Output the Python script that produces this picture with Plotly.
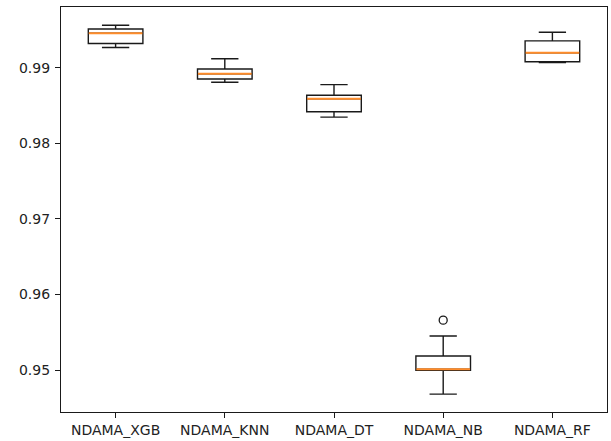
import plotly.graph_objects as go

# Cross-validated accuracy summary for each NDAMA model
models = ["NDAMA_XGB", "NDAMA_KNN", "NDAMA_DT", "NDAMA_NB", "NDAMA_RF"]
lower_whisker = [0.99267, 0.98807, 0.98346, 0.94684, 0.99068]
q1 = [0.99320, 0.98851, 0.98417, 0.95000, 0.99078]
median = [0.99456, 0.98921, 0.98588, 0.95013, 0.99197]
q3 = [0.99513, 0.98983, 0.98636, 0.95188, 0.99355]
upper_whisker = [0.99562, 0.99118, 0.98776, 0.95452, 0.99470]

# Flier points (model, value)
flier_model = ["NDAMA_NB"]
flier_value = [0.95662]

positions = list(range(1, len(models) + 1))
box_width = 0.5

fig = go.Figure()

fig.add_trace(go.Box(
    x=positions,
    q1=q1,
    median=median,
    q3=q3,
    lowerfence=lower_whisker,
    upperfence=upper_whisker,
    width=box_width,
    whiskerwidth=0.5,
    fillcolor="rgba(255,255,255,0)",
    line=dict(color="#1a1a1a", width=1.4),
    boxpoints=False,
    showlegend=False,
    hoverinfo="skip",
))

# Orange median lines drawn on top of the boxes
mx, my = [], []
for p, m in zip(positions, median):
    mx += [p - box_width / 2 + 0.004, p + box_width / 2 - 0.004, None]
    my += [m, m, None]
fig.add_trace(go.Scatter(
    x=mx, y=my, mode="lines",
    line=dict(color="#ff8c2a", width=2),
    showlegend=False, hoverinfo="skip",
))

fig.add_trace(go.Scatter(
    x=[positions[models.index(m)] for m in flier_model],
    y=flier_value,
    mode="markers",
    marker=dict(symbol="circle-open", size=8, color="#1a1a1a", line=dict(width=1.3)),
    showlegend=False, hoverinfo="skip",
))

axis_common = dict(
    showline=True, linecolor="#1a1a1a", linewidth=1.2, mirror=True,
    ticks="outside", ticklen=5, tickcolor="#1a1a1a", tickwidth=1,
    showgrid=False, zeroline=False,
    tickfont=dict(family="DejaVu Sans", size=14, color="#222222"),
)

fig.update_layout(
    width=611, height=441,
    margin=dict(l=61, r=3, t=7, b=27),
    paper_bgcolor="white", plot_bgcolor="white",
    xaxis=dict(range=[0.5, 5.5], tickvals=positions, ticktext=models, **axis_common),
    yaxis=dict(range=[0.94447, 0.99803], tickvals=[0.95, 0.96, 0.97, 0.98, 0.99],
               tickformat=".2f", ticklabelstandoff=2, **axis_common),
)

fig.write_html("out.html")
